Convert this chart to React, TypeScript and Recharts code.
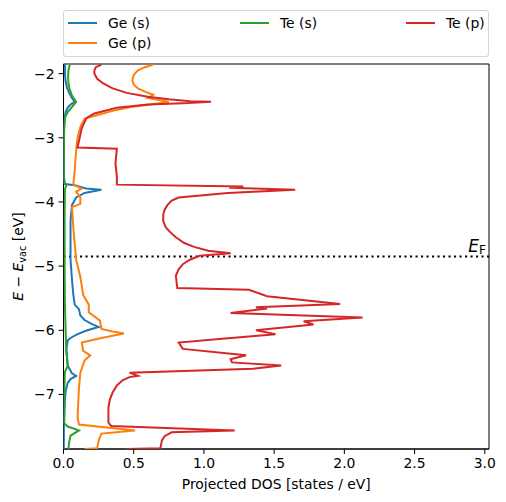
import {
	ScatterChart,
	Scatter,
	XAxis,
	YAxis,
	ReferenceLine,
	ReferenceArea,
} from "recharts";

// [DOS, E - E_vac] along each curve, top to bottom
const geS: [number, number][] = [
	[0.01, -1.85], [0.01, -2.0], [0.015, -2.12], [0.025, -2.22], [0.04, -2.3], [0.06, -2.38],
	[0.08, -2.44], [0.05, -2.48], [0.03, -2.53], [0.015, -2.6], [0.008, -2.7], [0.004, -2.85],
	[0.003, -3.2], [0.003, -3.6], [0.01, -3.72], [0.08, -3.74], [0.16, -3.79], [0.27, -3.81],
	[0.15, -3.86], [0.09, -3.93], [0.06, -4.05], [0.05, -4.3], [0.05, -4.9], [0.06, -5.2],
	[0.07, -5.45], [0.08, -5.6], [0.11, -5.67], [0.12, -5.77], [0.15, -5.84], [0.2, -5.9],
	[0.25, -5.95], [0.17, -6.0], [0.1, -6.06], [0.05, -6.12], [0.03, -6.16], [0.02, -6.3],
	[0.03, -6.55], [0.06, -6.67], [0.09, -6.71], [0.05, -6.76], [0.03, -6.82], [0.015, -6.95],
	[0.01, -7.1], [0.003, -7.45], [0.002, -7.85],
];

const geP: [number, number][] = [
	[0.64, -1.86], [0.58, -1.9], [0.53, -1.95], [0.5, -2.02], [0.49, -2.1], [0.5, -2.17],
	[0.53, -2.23], [0.58, -2.28], [0.64, -2.33], [0.6, -2.38], [0.75, -2.44], [0.62, -2.48],
	[0.48, -2.52], [0.35, -2.58], [0.25, -2.64], [0.15, -2.7], [0.12, -2.83], [0.1, -3.0],
	[0.09, -3.2], [0.08, -3.5], [0.07, -3.73], [0.13, -3.79], [0.09, -3.84], [0.12, -3.93],
	[0.12, -4.03], [0.06, -4.08], [0.07, -4.4], [0.09, -4.9], [0.12, -5.17], [0.14, -5.45],
	[0.18, -5.6], [0.18, -5.72], [0.26, -5.85], [0.27, -5.98], [0.35, -6.02], [0.43, -6.05],
	[0.27, -6.12], [0.13, -6.19], [0.14, -6.32], [0.19, -6.39], [0.15, -6.47], [0.12, -6.66],
	[0.11, -6.9], [0.1, -7.36], [0.11, -7.47], [0.51, -7.56], [0.27, -7.61], [0.25, -7.72],
	[0.24, -7.84], [0.15, -7.85],
];

const teS: [number, number][] = [
	[0.045, -1.86], [0.035, -1.95], [0.033, -2.05], [0.035, -2.15], [0.045, -2.25], [0.06, -2.34],
	[0.09, -2.44], [0.06, -2.52], [0.03, -2.6], [0.01, -2.69], [0.004, -2.9], [0.003, -3.7],
	[0.02, -3.74], [0.01, -3.8], [0.008, -4.2], [0.008, -5.0], [0.01, -5.6], [0.015, -6.0],
	[0.02, -6.3], [0.03, -6.55], [0.01, -6.65], [0.005, -7.0], [0.005, -7.45], [0.03, -7.5],
	[0.11, -7.56], [0.05, -7.64], [0.04, -7.75], [0.035, -7.85],
];

const teP: [number, number][] = [
	[0.27, -1.86], [0.23, -1.9], [0.22, -1.95], [0.22, -2.0], [0.24, -2.08], [0.28, -2.15],
	[0.35, -2.23], [0.45, -2.3], [0.6, -2.36], [0.75, -2.4], [0.9, -2.43], [1.05, -2.44],
	[0.85, -2.46], [0.6, -2.48], [0.38, -2.53], [0.22, -2.62], [0.165, -2.69], [0.13, -2.85],
	[0.1, -3.15], [0.38, -3.17], [0.37, -3.4], [0.38, -3.6], [0.38, -3.73], [1.28, -3.76],
	[1.18, -3.78], [1.65, -3.81], [1.17, -3.86], [0.82, -3.93], [0.77, -3.98], [0.74, -4.05],
	[0.72, -4.12], [0.71, -4.2], [0.71, -4.3], [0.73, -4.4], [0.76, -4.47], [0.8, -4.55],
	[0.86, -4.64], [0.93, -4.7], [1.03, -4.76], [1.19, -4.8], [0.97, -4.84], [0.9, -4.9],
	[0.85, -4.97], [0.82, -5.05], [0.8, -5.15], [0.81, -5.34], [1.32, -5.37], [1.45, -5.47],
	[1.97, -5.59], [1.37, -5.64], [1.45, -5.66], [1.19, -5.73], [2.13, -5.8], [1.71, -5.86],
	[1.78, -5.91], [1.37, -6.0], [1.51, -6.06], [1.13, -6.13], [0.82, -6.19], [0.85, -6.29],
	[1.3, -6.39], [1.19, -6.45], [1.2, -6.5], [1.55, -6.55], [1.35, -6.6], [0.47, -6.66],
	[0.53, -6.71], [0.47, -6.73], [0.42, -6.78], [0.38, -6.86], [0.35, -6.97], [0.33, -7.08],
	[0.32, -7.2], [0.32, -7.44], [0.34, -7.49], [1.22, -7.56], [0.77, -7.59], [0.72, -7.65],
	[0.7, -7.72], [0.69, -7.84], [0.45, -7.85],
];

const seriesNames = ["Ge (s)", "Ge (p)", "Te (s)", "Te (p)"];
const seriesColors = ["#1f77b4", "#ff7f0e", "#2ca02c", "#d62728"];
const seriesData = [geS, geP, teS, teP];

const fermiLevel = -4.85;
const xTicks = [0, 0.5, 1, 1.5, 2, 2.5, 3];
const yTicks = [-7, -6, -5, -4, -3, -2];
const xDomain: [number, number] = [0, 3.03];
const yDomain: [number, number] = [-7.85, -1.85];

const FONT = "DejaVu Sans, sans-serif";
const FS = 13.9;

const toPoints = (arr: [number, number][]) => arr.map(([x, y]) => ({ x, y }));
const minus = (v: number) => (v < 0 ? `\u2212${Math.abs(v)}` : `${v}`);

const LegendBox = () => {
	// matplotlib ncol=3, filled column by column
	const slots = [
		{ left: 4, top: 12 },
		{ left: 4, top: 32 },
		{ left: 176, top: 12 },
		{ left: 342, top: 12 },
	];
	return (
		<div
			style={{
				position: "absolute",
				left: 63,
				top: 10,
				width: 424,
				height: 45,
				border: "1px solid #d6d6d6",
				borderRadius: 3,
				background: "#fff",
				fontFamily: FONT,
				fontSize: FS,
			}}
		>
			{seriesNames.map((name, i) => (
				<div
					key={name}
					style={{
						position: "absolute",
						left: slots[i].left,
						top: slots[i].top - 9,
						height: 18,
						display: "flex",
						alignItems: "center",
						whiteSpace: "nowrap",
					}}
				>
					<span
						style={{
							display: "inline-block",
							width: 29,
							height: 2,
							background: seriesColors[i],
							marginRight: 11,
						}}
					/>
					<span>{name}</span>
				</div>
			))}
		</div>
	);
};

const YLabel = ({ viewBox }: any) => {
	const cy = viewBox.y + viewBox.height / 2;
	const x = 23;
	return (
		<text
			x={x}
			y={cy}
			transform={`rotate(-90, ${x}, ${cy})`}
			textAnchor="middle"
			fontFamily={FONT}
			fontSize={FS}
			fill="#000"
		>
			<tspan fontStyle="italic">E</tspan>
			<tspan>{" \u2212 "}</tspan>
			<tspan fontStyle="italic">E</tspan>
			<tspan fontSize={FS * 0.7} dy={3}>vac</tspan>
			<tspan dy={-3}>{" [eV]"}</tspan>
		</text>
	);
};

const XLabel = ({ viewBox }: any) => (
	<text
		x={viewBox.x + viewBox.width / 2}
		y={489}
		textAnchor="middle"
		fontFamily={FONT}
		fontSize={FS}
		fill="#000"
	>
		Projected DOS [states / eV]
	</text>
);

const FermiLabel = ({ viewBox }: any) => (
	<text
		x={viewBox.x + viewBox.width - 3}
		y={viewBox.y - 5}
		textAnchor="end"
		fontFamily={FONT}
		fontSize={17}
		fill="#000"
	>
		<tspan fontStyle="italic">E</tspan>
		<tspan fontSize={12} dy={2}>F</tspan>
	</text>
);

const App = () => {
	return (
		<div
			style={{
				position: "absolute",
				left: 0,
				top: 0,
				width: 506,
				height: 502,
				background: "#fff",
			}}
		>
			<LegendBox />
			<ScatterChart
				width={506}
				height={502}
				margin={{ top: 64, right: 17, bottom: 23, left: 3.5 }}
			>
				<XAxis
					type="number"
					dataKey="x"
					domain={xDomain}
					ticks={xTicks}
					allowDataOverflow
					tickFormatter={(v: number) => v.toFixed(1)}
					height={30}
					tickSize={5}
					tickMargin={4}
					stroke="#000"
					tick={{ fill: "#000", fontFamily: FONT, fontSize: FS }}
					label={<XLabel />}
				/>
				<YAxis
					type="number"
					dataKey="y"
					domain={yDomain}
					ticks={yTicks}
					allowDataOverflow
					tickFormatter={minus}
					width={60}
					tickSize={5}
					tickMargin={4}
					stroke="#000"
					tick={{ fill: "#000", fontFamily: FONT, fontSize: FS }}
					label={<YLabel />}
				/>
				{seriesData.map((d, i) => (
					<Scatter
						key={seriesNames[i]}
						name={seriesNames[i]}
						data={toPoints(d)}
						fill={seriesColors[i]}
						line={{ stroke: seriesColors[i], strokeWidth: 2 }}
						lineType="joint"
						shape={() => <g />}
						isAnimationActive={false}
					/>
				))}
				<ReferenceLine
					y={fermiLevel}
					stroke="#000"
					strokeWidth={2}
					strokeDasharray="2.1 3.4"
					label={<FermiLabel />}
				/>
				<ReferenceArea
					x1={xDomain[0]}
					x2={xDomain[1]}
					y1={yDomain[0]}
					y2={yDomain[1]}
					fill="none"
					stroke="#000"
					strokeWidth={1}
				/>
			</ScatterChart>
		</div>
	);
};

export default App;
